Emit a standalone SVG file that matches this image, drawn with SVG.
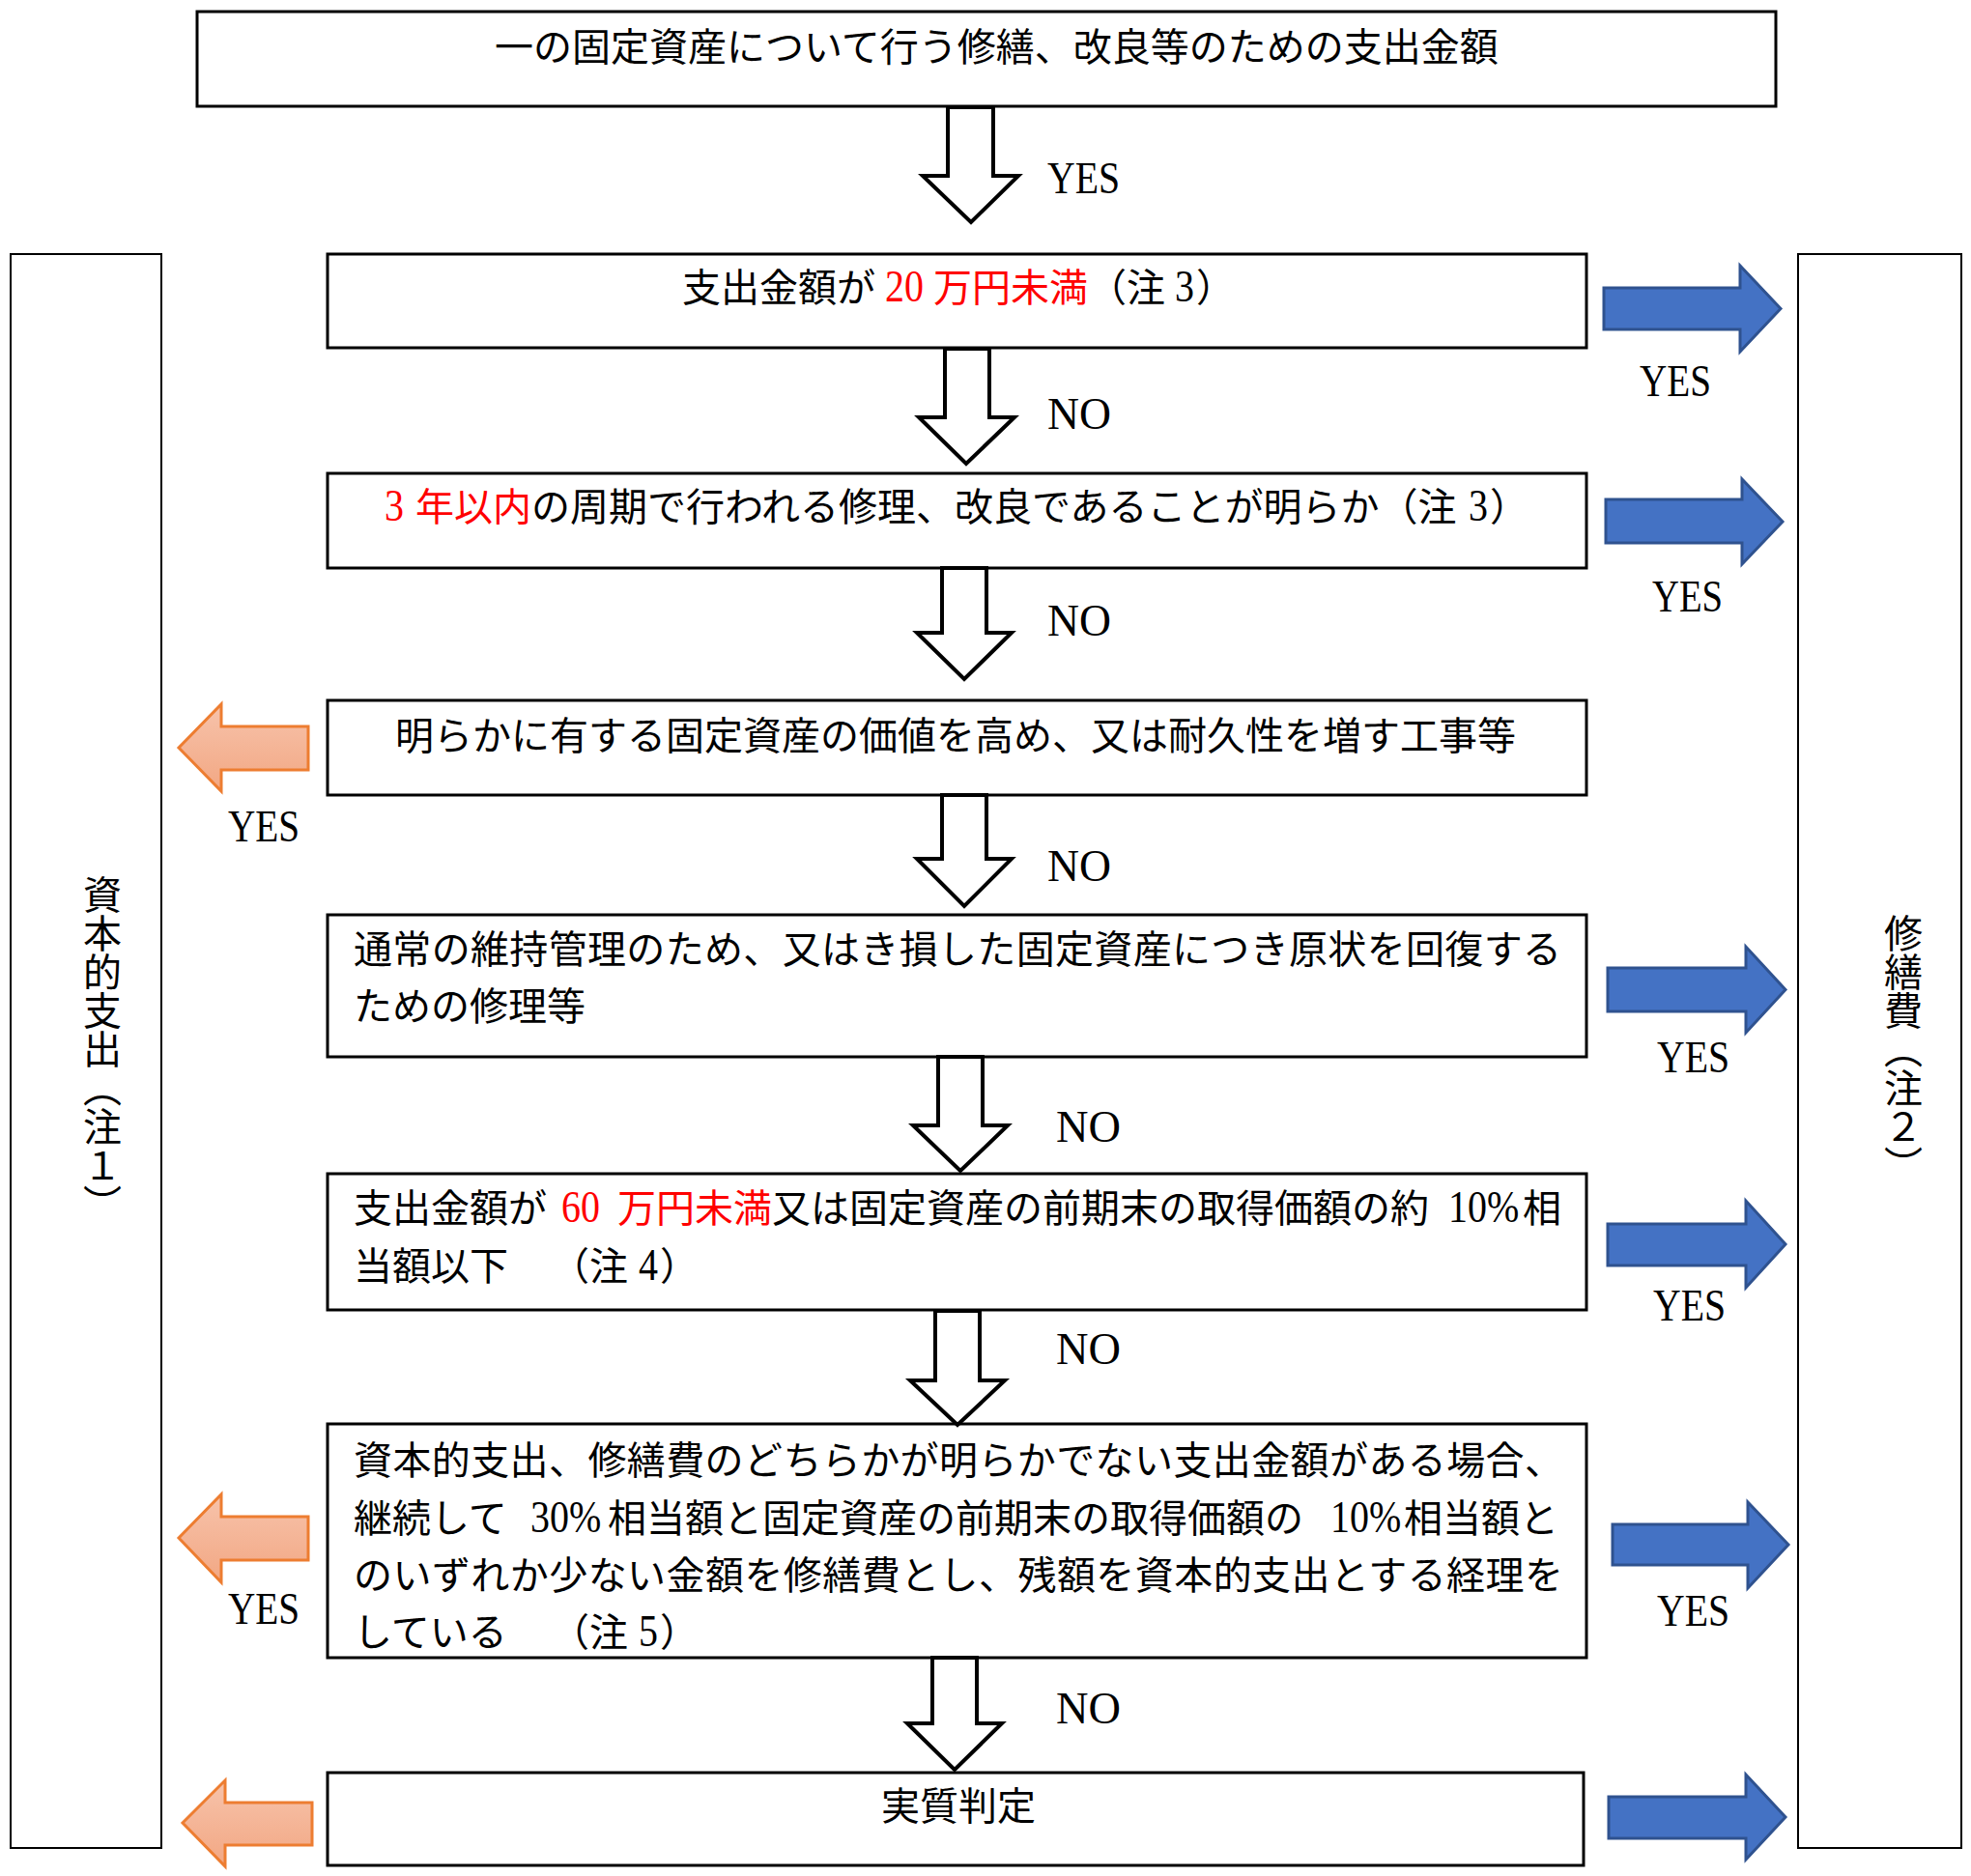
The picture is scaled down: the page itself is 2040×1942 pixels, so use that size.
<svg xmlns="http://www.w3.org/2000/svg" width="2040" height="1942" viewBox="0 0 2040 1942">
<defs>
<linearGradient id="og" x1="0" y1="0" x2="0" y2="1">
<stop offset="0" stop-color="#F7C3AB"/>
<stop offset="1" stop-color="#F2A783"/>
</linearGradient>
<style>
.box{fill:#fff;stroke:#000;stroke-width:3}
.side{fill:#fff;stroke:#000;stroke-width:2}
.down{fill:#fff;stroke:#000;stroke-width:4;stroke-miterlimit:10}
.blue{fill:#4472C4;stroke:#2F528F;stroke-width:3}
.orange{fill:url(#og);stroke:#ED7D31;stroke-width:3}
.t{font-family:'Liberation Serif','Noto Sans CJK JP',serif;font-size:40px;fill:#000}
.num{font-size:47px}
.v{font-family:'Noto Sans CJK JP',sans-serif;font-size:40px;fill:#000;writing-mode:vertical-rl}
.lbl{font-family:'Liberation Serif','Noto Sans CJK JP',serif;font-size:46px;fill:#000}
.red{fill:#FF0000}
</style>
</defs>
<rect width="2040" height="1942" fill="#fff"/>

<g id="capital">
<rect class="side" x="11" y="263" width="156" height="1650"/>
<text class="v" x="106" y="906">資本的支出（注１）</text>
</g>
<g id="repair">
<rect class="side" x="1861" y="263" width="169" height="1650"/>
<text class="v" x="1970" y="946">修繕費（注２）</text>
</g>

<g id="n1">
<rect class="box" x="204" y="12" width="1634" height="98"/>
<text class="t" x="512" y="63">一の固定資産について行う修繕、改良等のための支出金額</text>
</g>
<g id="n2">
<rect class="box" x="339" y="263" width="1303" height="97"/>
<text class="t" x="706" y="312">支出金額が</text>
<text class="t num red" transform="translate(916,312) scale(0.85,1)">20</text>
<text class="t red" x="966" y="312">万円未満</text>
<text class="t" x="1126" y="312">（注</text>
<text class="t num" transform="translate(1216,312) scale(0.85,1)">3</text>
<text class="t" x="1238" y="312">）</text>
</g>
<g id="n3">
<rect class="box" x="339" y="490" width="1303" height="98"/>
<text class="t num red" transform="translate(398,539) scale(0.85,1)">3</text>
<text class="t red" x="430" y="539">年以内</text>
<text class="t" x="550" y="539">の周期で行われる修理、改良であることが明らか（注</text>
<text class="t num" transform="translate(1520,539) scale(0.85,1)">3</text>
<text class="t" x="1542" y="539">）</text>
</g>
<g id="n4">
<rect class="box" x="339" y="725" width="1303" height="98"/>
<text class="t" x="409" y="776">明らかに有する固定資産の価値を高め、又は耐久性を増す工事等</text>
</g>
<g id="n5">
<rect class="box" x="339" y="947" width="1303" height="147"/>
<text class="t" x="366" y="997" textLength="1250" lengthAdjust="spacing">通常の維持管理のため、又はき損した固定資産につき原状を回復する</text>
<text class="t" x="366" y="1056">ための修理等</text>
</g>
<g id="n6">
<rect class="box" x="339" y="1215" width="1303" height="141"/>
<text class="t" x="366" y="1265">支出金額が</text>
<text class="t num red" transform="translate(581,1265) scale(0.85,1)">60</text>
<text class="t red" x="639" y="1265">万円未満</text>
<text class="t" x="799" y="1265">又は固定資産の前期末の取得価額の約</text>
<text class="t num" transform="translate(1499,1265) scale(0.85,1)">10%</text>
<text class="t" x="1576" y="1265">相</text>
<text class="t" x="366" y="1325">当額以下</text>
<text class="t" x="570" y="1325">（注</text>
<text class="t num" transform="translate(661,1325) scale(0.85,1)">4</text>
<text class="t" x="683" y="1325">）</text>
</g>
<g id="n7">
<rect class="box" x="339" y="1474" width="1303" height="242"/>
<text class="t" x="366" y="1526" textLength="1252" lengthAdjust="spacing">資本的支出、修繕費のどちらかが明らかでない支出金額がある場合、</text>
<text class="t" x="366" y="1586">継続して</text>
<text class="t num" transform="translate(549,1586) scale(0.85,1)">30%</text>
<text class="t" x="629" y="1586">相当額と固定資産の前期末の取得価額の</text>
<text class="t num" transform="translate(1377,1586) scale(0.85,1)">10%</text>
<text class="t" x="1453" y="1586">相当額と</text>
<text class="t" x="366" y="1645" textLength="1252" lengthAdjust="spacing">のいずれか少ない金額を修繕費とし、残額を資本的支出とする経理を</text>
<text class="t" x="366" y="1704">している</text>
<text class="t" x="570" y="1704">（注</text>
<text class="t num" transform="translate(661,1704) scale(0.85,1)">5</text>
<text class="t" x="683" y="1704">）</text>
</g>
<g id="n8">
<rect class="box" x="339" y="1835" width="1300" height="96"/>
<text class="t" x="992" y="1884" text-anchor="middle">実質判定</text>
</g>

<g id="connectors">
<path class="down" d="M981,111 H1028 V182 H1054 L1005,230 L955,182 H981 Z"/>
<path class="down" d="M978,361 H1024 V432 H1050 L1000,480 L951,432 H978 Z"/>
<path class="down" d="M975,588 H1021 V655 H1047 L998,703 L949,655 H975 Z"/>
<path class="down" d="M975,823 H1021 V889 H1047 L998,938 L949,889 H975 Z"/>
<path class="down" d="M971,1094 H1017 V1165 H1043 L994,1212 L945,1165 H971 Z"/>
<path class="down" d="M968,1357 H1014 V1429 H1040 L991,1475 L942,1429 H968 Z"/>
<path class="down" d="M965,1716 H1011 V1784 H1037 L988,1832 L939,1784 H965 Z"/>

<path class="blue" d="M1660,298 H1801 V275 L1843,319.5 L1801,364 V341 H1660 Z"/>
<path class="blue" d="M1662,517 H1803 V496 L1845,540 L1803,584 V562 H1662 Z"/>
<path class="blue" d="M1664,1002 H1807 V980 L1848,1024.5 L1807,1069 V1047 H1664 Z"/>
<path class="blue" d="M1664,1267 H1807 V1243 L1848,1288 L1807,1333 V1310 H1664 Z"/>
<path class="blue" d="M1669,1578 H1809 V1555 L1851,1599 L1809,1644 V1620 H1669 Z"/>
<path class="blue" d="M1665,1860 H1807 V1837 L1848,1881 L1807,1925 V1903 H1665 Z"/>

<path class="orange" d="M319,752 H229 V729 L185,774 L229,819 V797 H319 Z"/>
<path class="orange" d="M319,1570 H229 V1547 L185,1592 L229,1638 V1615 H319 Z"/>
<path class="orange" d="M323,1866 H233 V1843 L189,1887 L233,1932 V1910 H323 Z"/>

<text class="lbl" x="1084" y="200" textLength="75" lengthAdjust="spacingAndGlyphs">YES</text>
<text class="lbl" x="1697" y="410" textLength="74" lengthAdjust="spacingAndGlyphs">YES</text>
<text class="lbl" x="1710" y="633" textLength="73" lengthAdjust="spacingAndGlyphs">YES</text>
<text class="lbl" x="236" y="871" textLength="74" lengthAdjust="spacingAndGlyphs">YES</text>
<text class="lbl" x="1715" y="1110" textLength="75" lengthAdjust="spacingAndGlyphs">YES</text>
<text class="lbl" x="1711" y="1367" textLength="75" lengthAdjust="spacingAndGlyphs">YES</text>
<text class="lbl" x="236" y="1681" textLength="74" lengthAdjust="spacingAndGlyphs">YES</text>
<text class="lbl" x="1715" y="1683" textLength="75" lengthAdjust="spacingAndGlyphs">YES</text>
<text class="lbl" x="1084" y="444" textLength="66" lengthAdjust="spacingAndGlyphs">NO</text>
<text class="lbl" x="1084" y="658" textLength="66" lengthAdjust="spacingAndGlyphs">NO</text>
<text class="lbl" x="1084" y="912" textLength="66" lengthAdjust="spacingAndGlyphs">NO</text>
<text class="lbl" x="1093" y="1182" textLength="67" lengthAdjust="spacingAndGlyphs">NO</text>
<text class="lbl" x="1093" y="1412" textLength="67" lengthAdjust="spacingAndGlyphs">NO</text>
<text class="lbl" x="1093" y="1784" textLength="67" lengthAdjust="spacingAndGlyphs">NO</text>
</g>
</svg>
